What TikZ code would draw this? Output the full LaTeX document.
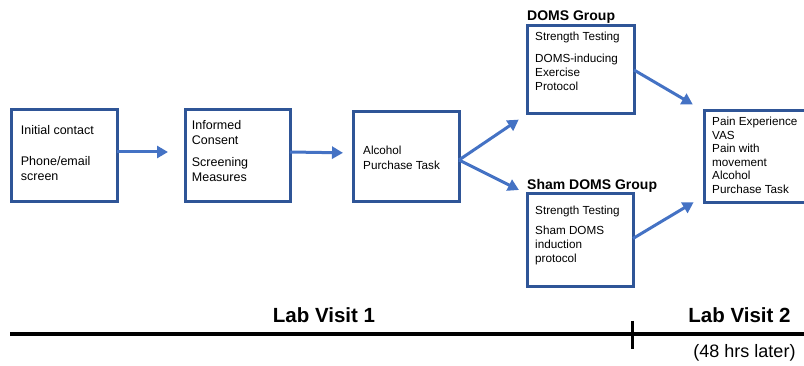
\documentclass[tikz,border=0pt]{standalone}
\usepackage{fontspec}
\setmainfont{Liberation Sans}
\usetikzlibrary{arrows.meta, positioning, calc}
\definecolor{boxblue}{RGB}{47,85,151}
\definecolor{arrowblue}{RGB}{68,114,196}

\begin{document}
\begin{tikzpicture}[
    x=1pt, y=-1pt,
    box/.style={draw=boxblue, line width=3pt, fill=white, inner sep=0pt, outer sep=0pt},
    txt/.style={anchor=north west, inner sep=0pt, align=left, font=\fontsize{11.7}{14}\selectfont},
    bigtxt/.style={txt, font=\fontsize{12.5}{15.5}\selectfont},
    group/.style={anchor=base west, inner sep=0pt, font=\fontsize{14}{16}\selectfont\bfseries},
    visit/.style={anchor=base, inner sep=0pt, font=\fontsize{20.5}{24}\selectfont\bfseries},
    later/.style={anchor=base, inner sep=0pt, font=\fontsize{18}{20}\selectfont},
    flow/.style={draw=arrowblue, line width=3pt, -{Triangle[length=11pt, width=12pt]}},
    timeline/.style={draw=black, line width=3.5pt}
]

\useasboundingbox (0,0) rectangle (804,366);

\node[box, minimum width=106pt, minimum height=92pt] (contact) at (64,156) {};
\node[box, minimum width=105pt, minimum height=92pt] (consent) at (237.5,156) {};
\node[box, minimum width=106pt, minimum height=90pt] (purchase) at (406,157) {};
\node[box, minimum width=107pt, minimum height=88pt] (doms) at (580.5,70) {};
\node[box, minimum width=106pt, minimum height=93pt] (sham) at (580,240.5) {};
\node[box, minimum width=106pt, minimum height=92pt] (result) at (757,157) {};

\node[bigtxt] (contacttxt) at ($(contact.north west)+(9.7,15)$) {Initial contact\\[15.5pt]Phone/email\\screen};
\node[bigtxt] (consenttxt) at ($(consent.north west)+(6.7,10)$) {Informed\\Consent\\[6pt]Screening\\Measures};
\node[txt] (purchasetxt) at ($(purchase.north west)+(10,34)$) {Alcohol\\[1pt]Purchase Task};
\node[txt] (domstxt) at ($(doms.north west)+(8,6.3)$) {Strength Testing\\[8pt]DOMS-inducing\\Exercise\\Protocol};
\node[txt] (shamtxt) at ($(sham.north west)+(8,12)$) {Strength Testing\\[6pt]Sham DOMS\\induction\\protocol};
\node[txt, font=\fontsize{11.7}{13.5}\selectfont] (resulttxt) at ($(result.north west)+(8,6)$) {Pain Experience\\VAS\\Pain with\\movement\\Alcohol\\Purchase Task};

\node[group] (domslabel) at ($(doms.north west)+(0,-5)$) {DOMS Group};
\node[group] (shamlabel) at ($(sham.north west)+(0,-4)$) {Sham DOMS Group};

\draw[flow, shorten >=17pt] ([yshift=4pt]contact.east) -- ([yshift=4pt]consent.west);
\draw[flow, shorten >=10pt] ([yshift=4pt]consent.east) -- ([yshift=4pt]purchase.west);
\draw[flow, shorten >=10pt] ([yshift=-3pt]purchase.east) -- (doms.south west);
\draw[flow, shorten >=9pt] ([yshift=-3pt]purchase.east) -- (sham.north west);
\draw[flow, shorten >=13pt] (doms.east) -- (result.north west);
\draw[flow, shorten >=12pt] ([yshift=2pt]sham.east) -- ([yshift=7pt]result.south west);

\coordinate (tstart) at (10,334);
\coordinate (tend) at (810,334);
\coordinate (split) at (632,334);
\draw[timeline] (tstart) -- (tend);
\draw[timeline, line width=3pt] ([yshift=13pt]split) -- ([yshift=-15pt]split);

\node[visit] (visit1) at (324,323) {Lab Visit 1};
\node[visit] (visit2) at (739.5,323) {Lab Visit 2};
\node[later] (visit2note) at (744.5,358) {(48 hrs later)};

\end{tikzpicture}
\end{document}
